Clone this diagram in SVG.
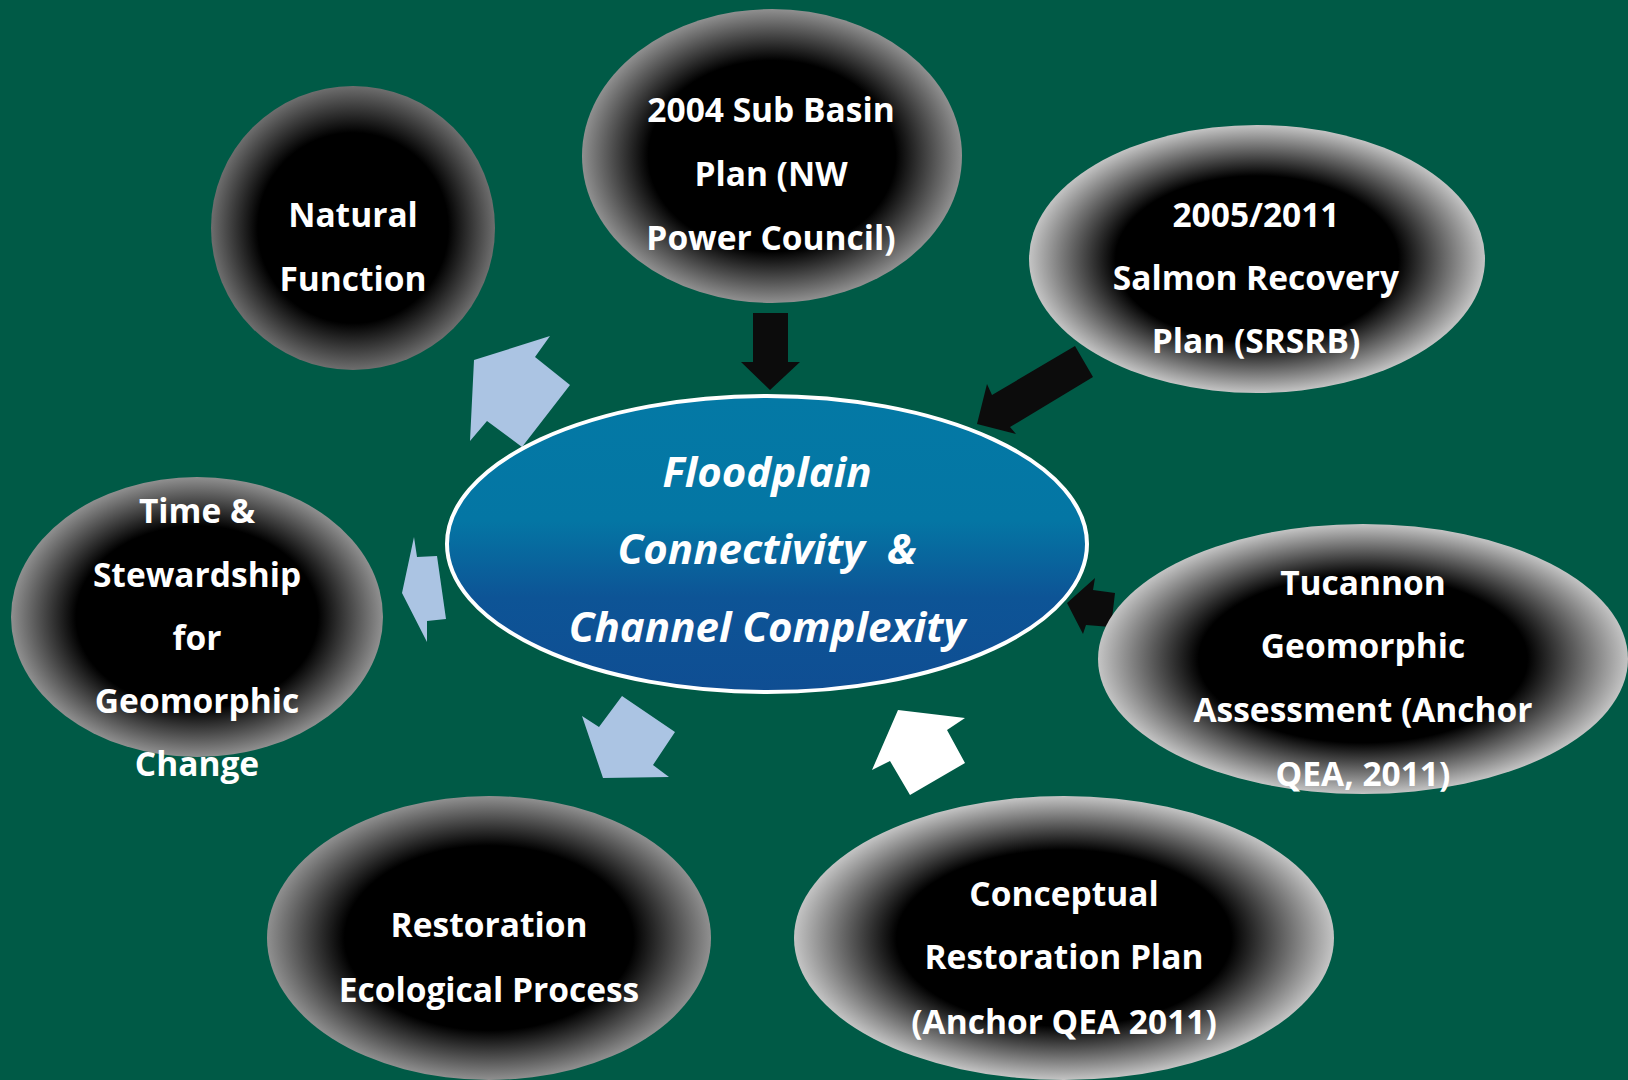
<svg xmlns="http://www.w3.org/2000/svg" width="1628" height="1080" viewBox="0 0 1628 1080">
<defs>
<radialGradient id="gDark" cx="0.5" cy="0.5" r="0.5">
<stop offset="0" stop-color="#000"/>
<stop offset="0.67" stop-color="#000"/>
<stop offset="1" stop-color="#6e6e6e"/>
</radialGradient>
<radialGradient id="gMid" cx="0.5" cy="0.5" r="0.5">
<stop offset="0" stop-color="#000"/>
<stop offset="0.65" stop-color="#000"/>
<stop offset="1" stop-color="#909090"/>
</radialGradient>
<radialGradient id="gLight" cx="0.5" cy="0.5" r="0.5">
<stop offset="0" stop-color="#000"/>
<stop offset="0.62" stop-color="#000"/>
<stop offset="1" stop-color="#c4c4c4"/>
</radialGradient>
<linearGradient id="gCenter" x1="0" y1="0" x2="0" y2="1">
<stop offset="0" stop-color="#0479a5"/>
<stop offset="0.42" stop-color="#0476a4"/>
<stop offset="0.68" stop-color="#0d5496"/>
<stop offset="1" stop-color="#0f4e93"/>
</linearGradient>
</defs>
<style>
.t{font-family:"Open Sans","Noto Sans","DejaVu Sans",sans-serif;font-weight:700;font-size:33.5px;fill:#fff;text-anchor:middle}
.c{font-family:"Open Sans","Noto Sans","DejaVu Sans",sans-serif;font-weight:700;font-style:italic;font-size:42px;fill:#fff;text-anchor:middle}
.lb{fill:#abc4e3}
.bk{fill:#0c0c0c}
.wh{fill:#fff}
</style>
<rect width="1628" height="1080" fill="#005a46"/>

<g id="connectors">
<polygon class="lb" points="474,360 550,336 535,357 570,385 522,447 487,421 470,441"/>
<polygon class="bk" points="753,313 788,313 788,362 800,362 770,390 741,362 753,362"/>
<polygon class="bk" points="1075,346 1093,377 1010,427 1016,434 977,424 987,384 992,395"/>
<polygon class="bk" points="1067,603 1095,578 1093,590 1115,593 1111,627 1086,625 1083,634"/>
<polygon class="wh" points="898,710 965,718 947,730 965,763 910,795 890,761 872,770"/>
<polygon class="lb" points="622,696 675,732 653,765 669,777 603,778 582,716 599,727"/>
<polygon class="lb" points="414,537 417,557 437,556 446,619 427,621 427,642 402,593"/>
</g>

<g id="center">
<ellipse cx="767" cy="544" rx="320" ry="148" fill="url(#gCenter)" stroke="#fff" stroke-width="4"/>
<text class="c" x="767" y="487">Floodplain</text>
<text class="c" x="767" y="564" xml:space="preserve">Connectivity  &amp;</text>
<text class="c" x="767" y="642">Channel Complexity</text>
</g>

<g id="natural-function">
<ellipse cx="353" cy="228" rx="142" ry="142" fill="url(#gDark)"/>
<text class="t" x="353" y="227">Natural</text>
<text class="t" x="353" y="291">Function</text>
</g>

<g id="sub-basin-plan">
<ellipse cx="772" cy="156" rx="190" ry="147" fill="url(#gMid)"/>
<text class="t" x="771" y="122">2004 Sub Basin</text>
<text class="t" x="771" y="186">Plan (NW</text>
<text class="t" x="771" y="250">Power Council)</text>
</g>

<g id="salmon-recovery-plan">
<ellipse cx="1257" cy="259" rx="228" ry="134" fill="url(#gLight)"/>
<text class="t" x="1256" y="227">2005/2011</text>
<text class="t" x="1256" y="290">Salmon Recovery</text>
<text class="t" x="1256" y="353">Plan (SRSRB)</text>
</g>

<g id="tucannon">
<ellipse cx="1363" cy="659" rx="265" ry="135" fill="url(#gLight)"/>
<text class="t" x="1363" y="595">Tucannon</text>
<text class="t" x="1363" y="658">Geomorphic</text>
<text class="t" x="1363" y="722">Assessment (Anchor</text>
<text class="t" x="1363" y="786">QEA, 2011)</text>
</g>

<g id="conceptual-plan">
<ellipse cx="1064" cy="938" rx="270" ry="142" fill="url(#gLight)"/>
<text class="t" x="1064" y="906">Conceptual</text>
<text class="t" x="1064" y="969">Restoration Plan</text>
<text class="t" x="1064" y="1034">(Anchor QEA 2011)</text>
</g>

<g id="restoration-process">
<ellipse cx="489" cy="938" rx="222" ry="142" fill="url(#gMid)"/>
<text class="t" x="489" y="937">Restoration</text>
<text class="t" x="489" y="1002">Ecological Process</text>
</g>

<g id="time-stewardship">
<ellipse cx="197" cy="617" rx="186" ry="140" fill="url(#gMid)"/>
<text class="t" x="197" y="523">Time &amp;</text>
<text class="t" x="197" y="587">Stewardship</text>
<text class="t" x="197" y="650">for</text>
<text class="t" x="197" y="713">Geomorphic</text>
<text class="t" x="197" y="776">Change</text>
</g>
</svg>
